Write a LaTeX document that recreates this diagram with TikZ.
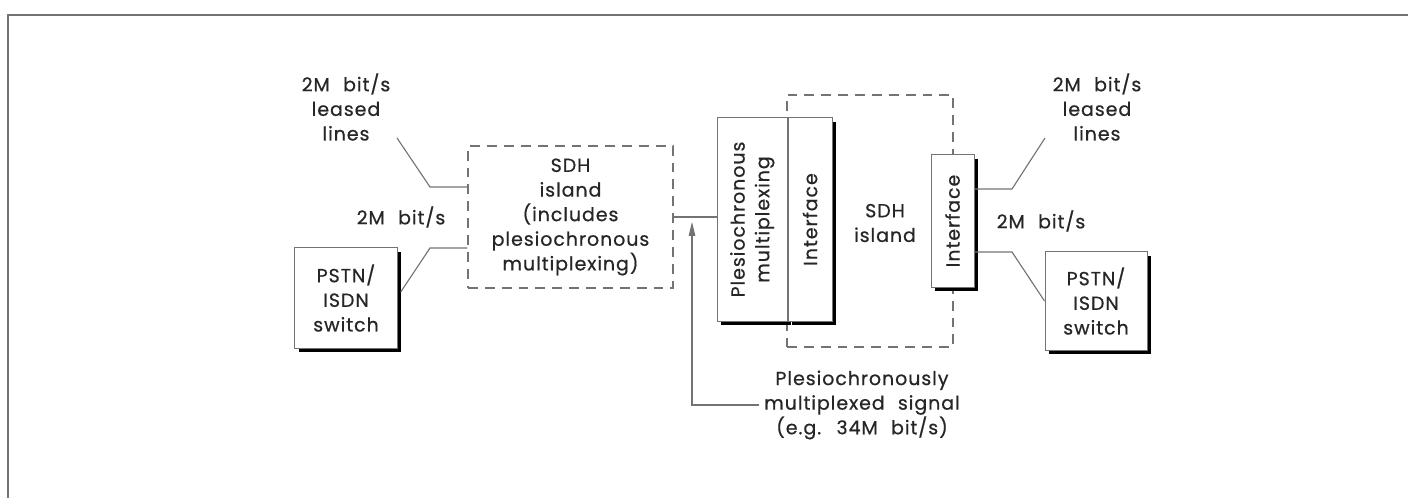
\documentclass[tikz,border=0pt]{standalone}
\usepackage{fontspec}
\setmainfont{Poppins}[LetterSpace=5,WordSpace=2.2,FakeBold=0.6]
\usetikzlibrary{arrows.meta,positioning,calc,shadows}
\definecolor{LineGray}{RGB}{115,115,115}
\tikzset{
  lbl/.style={align=center, font=\fontsize{13.5}{17.5}\selectfont, text=black!85},
  shadowbox/.style={draw=LineGray, fill=white, line width=0.7pt, align=center, inner sep=0pt,
    drop shadow={shadow xshift=0.1cm, shadow yshift=-0.1cm, fill=black, opacity=1}},
  islandbox/.style={draw=LineGray, dash pattern=on 7pt off 5pt, line width=0.8pt,
    align=center, inner sep=0pt},
  conn/.style={draw=LineGray, line width=0.8pt}
}

\begin{document}
\begin{tikzpicture}[x=0.025cm, y=-0.025cm]
  \useasboundingbox (0,0) rectangle (1408,498);
  \draw[draw=black!55, line width=0.8pt] (8,498) -- (8,15) -- (1408,15);

  % background island and the boxes on it
  \node[islandbox, minimum width=4.15cm, minimum height=6.3cm] (islandR) at (870,221) {};
  \node[shadowbox, lbl, minimum width=2.55cm, minimum height=2.5cm] (pstnL) at (346,298) {PSTN/\\ISDN\\switch};
  \node[islandbox, lbl, minimum width=5.125cm, minimum height=3.55cm] (islandL) at (570.5,217)
    {SDH\\island\\(includes\\plesiochronous\\multiplexing)};
  \node[shadowbox, lbl, minimum width=1.75cm, minimum height=5.075cm] (plex) at (752,219.5)
    {\rotatebox{90}{\begin{tabular}{@{}c@{}}Plesiochronous\\multiplexing\end{tabular}}};
  \node[shadowbox, lbl, minimum width=1.1cm, minimum height=5.075cm, right=0pt of plex] (ifA)
    {\rotatebox{90}{Interface}};
  \node[lbl] (islandRtxt) at (885,223) {SDH\\island};
  \node[shadowbox, lbl, minimum width=1.075cm, minimum height=3.3cm] (ifB) at (952.5,221)
    {\rotatebox{90}{Interface}};
  \node[shadowbox, lbl, minimum width=2.55cm, minimum height=2.45cm] (pstnR) at (1096,301) {PSTN/\\ISDN\\switch};

  % labels
  \node[lbl] (leasedL) at (346,107) {2M bit/s\\leased\\lines};
  \node[lbl] (rateL) at (401,217) {2M bit/s};
  \node[lbl] (leasedR) at (1097,107) {2M bit/s\\leased\\lines};
  \node[lbl] (rateR) at (1041,221) {2M bit/s};
  \node[lbl] (sig) at (862,405) {Plesiochronously\\multiplexed signal\\(e.g. 34M bit/s)};

  % left side
  \coordinate (leadLa) at (397,138);
  \coordinate (kneeLa) at (430,187);
  \coordinate (kneeLb) at (430,248);
  \draw[conn] (leadLa) -- (kneeLa) -- (kneeLa -| islandL.west);
  \draw[conn] ([xshift=0.08cm, yshift=0.15cm]pstnL.east) -- (kneeLb) -- (kneeLb -| islandL.west);
  \draw[conn] (islandL.east) -- (islandL.east -| plex.west);

  % signal arrow
  \coordinate (sigknee) at (692,405);
  \draw[conn, -{Triangle[length=0.35cm, width=0.16cm]}] (sig.west) -- (sigknee)
    -- ([yshift=-0.12cm]sigknee |- islandL.east);

  % right side
  \coordinate (kneeRa) at (1012,189);
  \coordinate (leadRa) at (1045,138);
  \coordinate (kneeRb) at (1012,252);
  \draw[conn] (ifB.east |- kneeRa) -- (kneeRa) -- (leadRa);
  \draw[conn] (ifB.east |- kneeRb) -- (kneeRb) -- (pstnR.west);
\end{tikzpicture}
\end{document}
